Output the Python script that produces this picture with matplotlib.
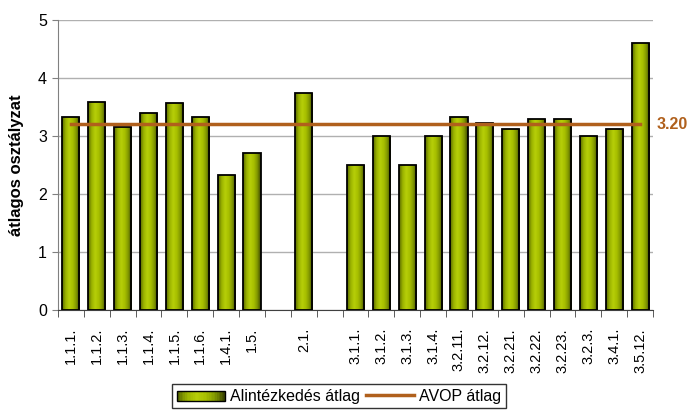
import matplotlib
matplotlib.use("Agg")
import matplotlib.pyplot as plt
import numpy as np
from matplotlib.colors import LinearSegmentedColormap
from matplotlib.legend_handler import HandlerBase
from matplotlib.patches import Rectangle
from matplotlib.lines import Line2D

plt.rcParams["font.family"] = ["Liberation Sans", "DejaVu Sans"]

# categories ("" = empty slot between groups)
labels = ["1.1.1.", "1.1.2.", "1.1.3.", "1.1.4.", "1.1.5.", "1.1.6.", "1.4.1.", "1.5.",
          "", "2.1.", "",
          "3.1.1.", "3.1.2.", "3.1.3.", "3.1.4.", "3.2.11.", "3.2.12.", "3.2.21.",
          "3.2.22.", "3.2.23.", "3.2.3.", "3.4.1.", "3.5.12."]
values = [3.33, 3.59, 3.16, 3.39, 3.57, 3.33, 2.33, 2.71,
          np.nan, 3.75, np.nan,
          2.50, 3.00, 2.50, 3.00, 3.33, 3.22, 3.13,
          3.29, 3.29, 3.00, 3.13, 4.60]
avop_avg = 3.20

bar_cmap = LinearSegmentedColormap.from_list(
    "bar", ["#586800", "#9ab200", "#b6ce08", "#a8c000", "#829800", "#3c4600"])
line_color = "#b0601c"
grad = np.linspace(0, 1, 64).reshape(1, -1)


def gradient_bar(ax, x, h, w):
    rect = Rectangle((x - w / 2, 0), w, h, facecolor="none", edgecolor="black",
                     linewidth=1.3, zorder=4)
    ax.add_patch(rect)
    im = ax.imshow(grad, cmap=bar_cmap, aspect="auto", extent=(x - w / 2, x + w / 2, 0, h),
                   zorder=3, interpolation="bilinear")
    im.set_clip_path(rect)


class GradientHandler(HandlerBase):
    def create_artists(self, legend, orig, xd, yd, width, height, fontsize, trans):
        arts = []
        n = 30
        for i in range(n):
            r = Rectangle((xd + width * i / n, yd), width / n + 0.3, height,
                          facecolor=bar_cmap(i / (n - 1)), edgecolor="none", transform=trans)
            arts.append(r)
        arts.append(Rectangle((xd, yd), width, height, facecolor="none",
                              edgecolor="black", linewidth=1.0, transform=trans))
        return arts


fig = plt.figure(figsize=(6.88, 4.11), dpi=100)
ax = fig.add_axes([0.0843, 0.2457, 0.8648, 0.7053])

x = np.arange(len(labels))
for xi, v in zip(x, values):
    if not np.isnan(v):
        gradient_bar(ax, xi, v, 0.66)

ax.plot([x[0], x[-1]], [avop_avg, avop_avg], color=line_color, linewidth=2.5, zorder=5)
ax.text(x[-1] + 0.65, avop_avg, f"{avop_avg:.2f}", color=line_color, fontsize=11.5,
        fontweight="bold", va="center", ha="left")

ax.set_xlim(-0.5, len(labels) - 0.5)
ax.set_ylim(0, 5)
ax.set_yticks(range(6))
ax.tick_params(axis="y", labelsize=11.5, length=4, color="#808080", pad=4)
ax.yaxis.grid(True, color="#b0b0b0", linewidth=1.0)
ax.set_axisbelow(True)

ax.set_xticks(x)
ax.set_xticklabels(labels, rotation=90, fontsize=10.5)
ax.tick_params(axis="x", length=0, pad=13)
ax.set_xticks(np.arange(-0.5, len(labels)), minor=True)
ax.tick_params(axis="x", which="minor", length=5, color="#404040")

for s in ["top", "right"]:
    ax.spines[s].set_visible(False)
ax.spines["left"].set_color("#808080")
ax.spines["bottom"].set_color("#404040")

ax.set_ylabel("átlagos osztályzat", fontsize=12, fontweight="bold", labelpad=10)

h_bar = Rectangle((0, 0), 1, 1)
h_line = Line2D([0], [0], color=line_color, linewidth=2.5)
leg = fig.legend([h_bar, h_line], ["Alintézkedés átlag", "AVOP átlag"],
                 handler_map={Rectangle: GradientHandler()}, ncol=2,
                 loc="center", bbox_to_anchor=(339 / 688, 1 - 396 / 411),
                 fontsize=11.5, frameon=True, fancybox=False, borderpad=0.3,
                 handlelength=3.0, handleheight=0.6, handletextpad=0.3,
                 columnspacing=0.4, borderaxespad=0)
leg.get_frame().set_edgecolor("black")
leg.get_frame().set_linewidth(1.0)

fig.savefig("out.png", dpi=100)
